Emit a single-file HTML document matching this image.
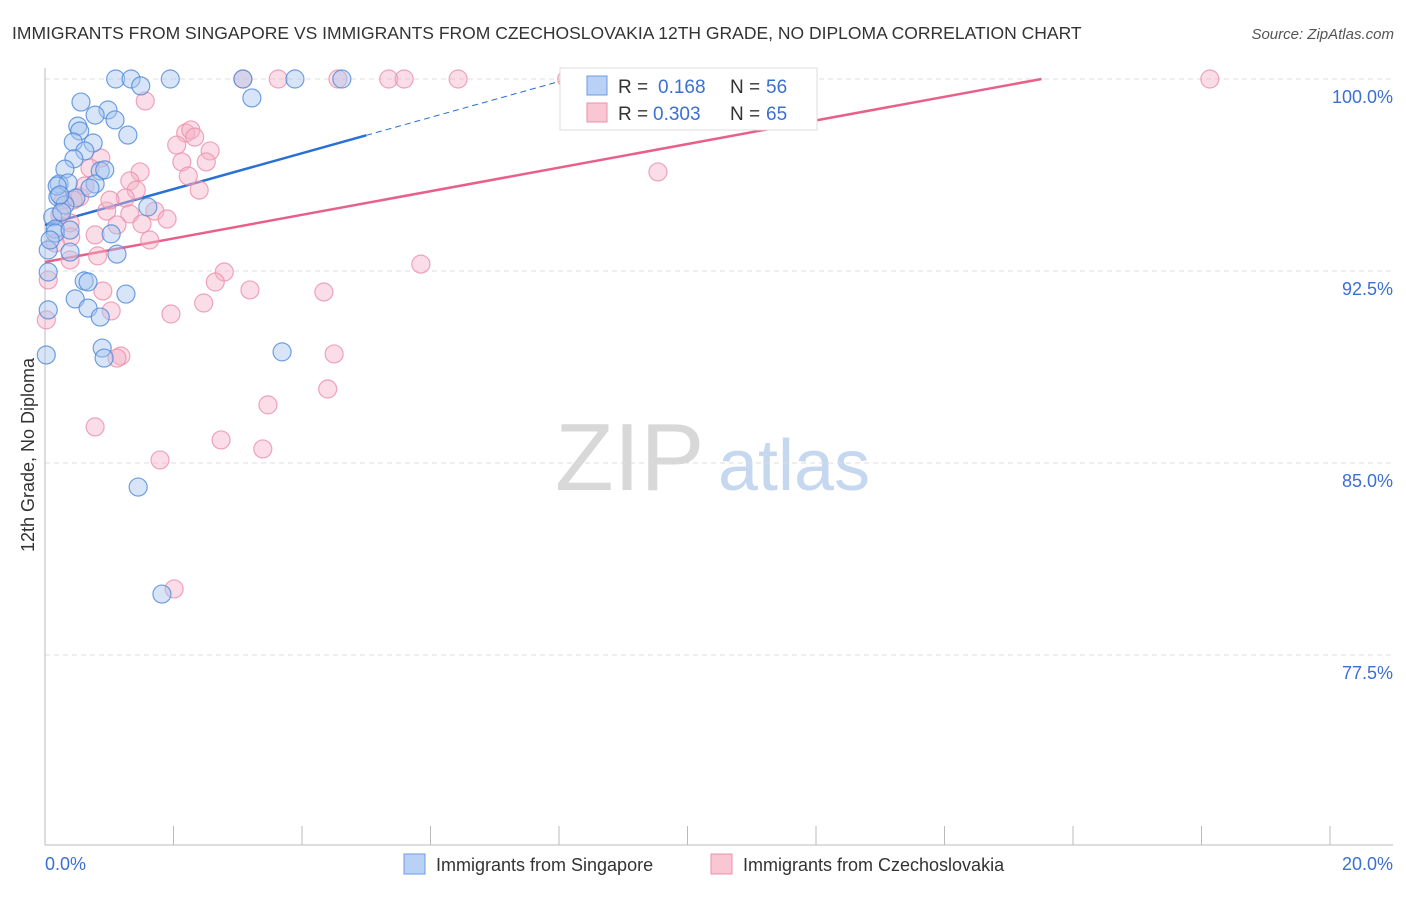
<!DOCTYPE html>
<html><head><meta charset="utf-8"><style>
body{margin:0;background:#fff;font-family:"Liberation Sans",sans-serif;}
svg text{font-family:"Liberation Sans",sans-serif;}
</style></head><body>
<svg id="chart" width="1406" height="892" viewBox="0 0 1406 892" xmlns="http://www.w3.org/2000/svg">
<text x="12" y="39" font-size="17.5" fill="#333">IMMIGRANTS FROM SINGAPORE VS IMMIGRANTS FROM CZECHOSLOVAKIA 12TH GRADE, NO DIPLOMA CORRELATION CHART</text>
<text x="1394" y="39" font-size="15" fill="#555" font-style="italic" text-anchor="end">Source: ZipAtlas.com</text>
<g>
<text x="555" y="490" font-size="96" fill="#d8d8d8" font-family="Liberation Serif, serif">ZIP</text>
<text x="718" y="490" font-size="72" fill="#c5d8f0">atlas</text>
</g>
<g id="grid"></g>
<g id="axes"></g>
<g id="trend"></g>
<g id="points"></g>
<text transform="translate(34,455) rotate(-90)" font-size="18" fill="#333" text-anchor="middle">12th Grade, No Diploma</text>
<text x="45" y="870" font-size="18" fill="#3b6fd4">0.0%</text>
<text x="1393" y="870" font-size="18" fill="#3b6fd4" text-anchor="end">20.0%</text>
<g>
<rect x="560" y="68" width="257" height="62" fill="#fff" stroke="#ddd"/>
<rect x="587" y="76" width="20" height="19" fill="#b9d1f5" stroke="#6d9be3"/>
<rect x="587" y="103" width="20" height="19" fill="#f9c6d4" stroke="#ec8fab"/>
<text x="618" y="93" font-size="19" fill="#333">R = </text><text x="658" y="93" font-size="19" fill="#3b6fd4">0.168</text>
<text x="730" y="93" font-size="19" fill="#333">N = </text><text x="766" y="93" font-size="19" fill="#3b6fd4">56</text>
<text x="618" y="120" font-size="19" fill="#333">R = </text><text x="653" y="120" font-size="19" fill="#3b6fd4">0.303</text>
<text x="730" y="120" font-size="19" fill="#333">N = </text><text x="766" y="120" font-size="19" fill="#3b6fd4">65</text>
</g>
<g>
<rect x="404" y="854" width="21" height="20" fill="#b9d1f5" stroke="#6d9be3"/>
<text x="436" y="871" font-size="18" fill="#333">Immigrants from Singapore</text>
<rect x="711" y="854" width="21" height="20" fill="#f9c6d4" stroke="#ec8fab"/>
<text x="743" y="871" font-size="18" fill="#333">Immigrants from Czechoslovakia</text>
</g>
</svg>
<script>
const blueX=[1.10,1.34,1.95,3.08,3.89,4.62,1.49,3.22,0.56,0.98,0.78,1.09,0.51,0.54,1.29,0.44,0.75,0.62,0.45,0.31,0.86,0.22,0.36,0.78,0.20,0.48,0.31,1.60,0.12,0.16,0.05,0.39,1.03,1.12,0.61,0.67,0.05,0.47,0.67,0.86,1.26,0.05,0.89,0.92,0.02,3.69,1.45,1.82,0.19,0.26,0.16,0.93,0.23,0.39,0.08,0.70];
const blueY=[100,100,100,100,100,100,99.73,99.26,99.10,98.79,98.59,98.40,98.16,97.97,97.81,97.54,97.50,97.19,96.88,96.48,96.41,95.90,95.94,95.90,95.39,95.35,95.08,95.00,94.61,94.14,93.32,93.24,93.95,93.16,92.11,92.07,92.46,91.41,91.05,90.70,91.60,90.98,89.49,89.10,89.22,89.34,84.06,79.88,95.82,94.80,93.98,96.45,95.47,94.10,93.71,95.74];
const pinkX=[3.08,3.63,4.56,5.35,5.59,6.43,8.12,18.13,1.56,2.19,2.27,2.33,2.05,2.57,2.13,2.51,0.87,1.48,1.32,2.23,1.42,2.40,1.25,0.54,0.44,0.28,1.71,1.32,0.96,1.90,1.51,1.12,0.39,0.40,0.16,0.05,0.02,0.82,2.79,2.65,3.19,4.34,2.47,1.96,5.85,1.03,0.90,1.18,1.12,4.50,4.40,3.47,0.78,2.74,3.39,1.79,2.01,9.54,0.62,1.01,0.23,0.78,0.70,1.63,0.39];
const pinkY=[100,100,100,100,100,100,100,100,99.14,97.89,98.01,97.73,97.42,97.19,96.76,96.76,96.91,96.37,96.02,96.21,95.66,95.66,95.35,95.39,95.27,95.27,94.84,94.73,94.84,94.53,94.34,94.30,94.38,93.83,93.59,92.15,90.59,93.09,92.46,92.07,91.76,91.68,91.25,90.82,92.77,90.94,91.72,89.18,89.10,89.26,87.89,87.27,86.41,85.90,85.55,85.12,80.08,96.37,95.82,95.27,94.69,93.91,96.52,93.71,92.93];
const yTicks=[100,92.5,85,77.5];
const yTickLabels=["100.0%","92.5%","85.0%","77.5%"];
const xTicks=[0,2,4,6,8,10,12,14,16,18,20];
const blueTrend=[94.3,0.70];   // intercept, slope
const pinkTrend=[92.85,0.461];
const NS="http://www.w3.org/2000/svg";
const X0=45,X1=1330,YT=79,PX_PER=25.6;
function sx(v){return X0+(v/20)*(X1-X0);}
function sy(v){return YT+(100-v)*PX_PER;}
function mk(tag,attrs,parent){const e=document.createElementNS(NS,tag);for(const k in attrs)e.setAttribute(k,attrs[k]);parent.appendChild(e);return e;}
const grid=document.getElementById('grid'),axes=document.getElementById('axes'),trend=document.getElementById('trend'),pts=document.getElementById('points');
yTicks.forEach((t,i)=>{
 const l=mk('line',{x1:45,x2:1393,y1:sy(t),y2:sy(t),stroke:'#ddd','stroke-dasharray':'5,4'},grid);
 
 
 const tx=mk('text',{x:1393,y:sy(t)+24,'font-size':18,fill:'#3b6fd4','text-anchor':'end'},grid);
 tx.textContent=yTickLabels[i];
 
 
});
const ya=mk('line',{x1:45,x2:45,y1:68,y2:845,stroke:'#bbb'},axes);


const xa=mk('line',{x1:45,x2:1393,y1:845,y2:845,stroke:'#bbb'},axes);


xTicks.forEach(t=>{
 const l=mk('line',{x1:sx(t),x2:sx(t),y1:826,y2:845,stroke:'#bbb'},axes);
 
 
});
function circles(xs,ys,fill,stroke,name){
 xs.forEach((x,i)=>{
  const c=mk('circle',{cx:sx(x),cy:sy(ys[i]),r:9,fill:fill,'fill-opacity':0.45,stroke:stroke,'stroke-width':1.2,'stroke-opacity':0.8},pts);
  
  
 });
}
circles(pinkX,pinkY,'#f5b3c7','#ec8fab','czechoslovakia-point');
circles(blueX,blueY,'#a8c6f0','#4d88db','singapore-point');
function xAt(tr,y){return (y-tr[0])/tr[1];}
const b1=mk('line',{x1:sx(0),y1:sy(blueTrend[0]),x2:sx(5),y2:sy(blueTrend[0]+5*blueTrend[1]),stroke:'#2a6fd6','stroke-width':2.5},trend);


const bx=xAt(blueTrend,100);
const b2=mk('line',{x1:sx(5),y1:sy(blueTrend[0]+5*blueTrend[1]),x2:sx(bx),y2:sy(100),stroke:'#2a6fd6','stroke-width':1,'stroke-dasharray':'6,4'},trend);


const px=xAt(pinkTrend,100);
const p1=mk('line',{x1:sx(0),y1:sy(pinkTrend[0]),x2:sx(px),y2:sy(100),stroke:'#e8608a','stroke-width':2.5},trend);


</script>
</body></html>
